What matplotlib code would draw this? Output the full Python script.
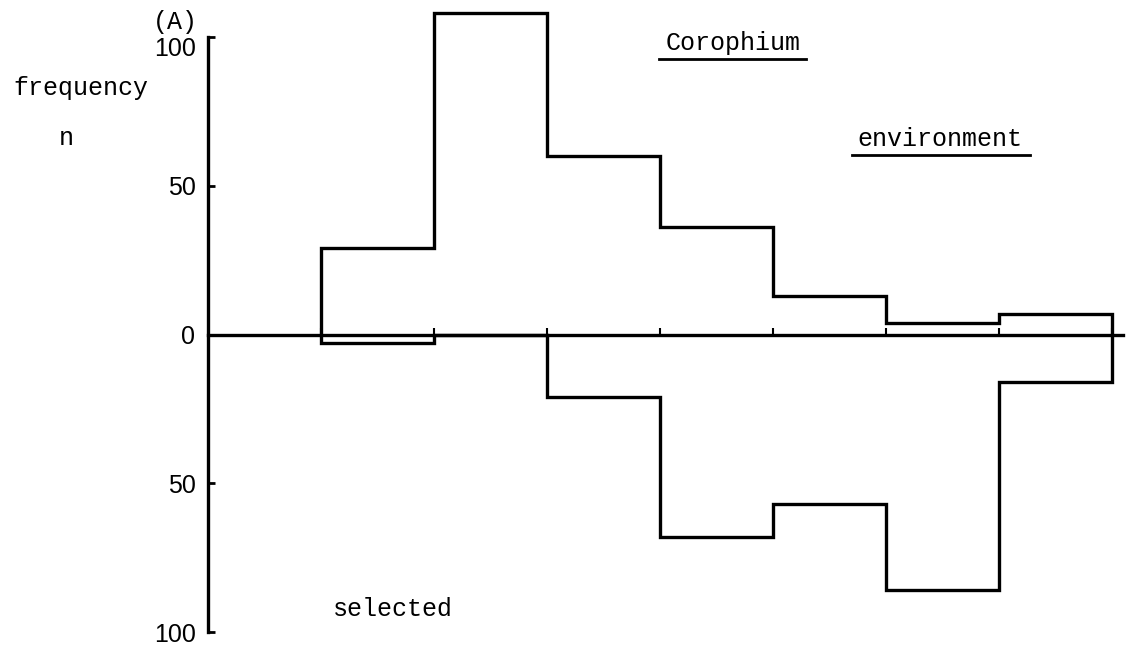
import numpy as np
from matplotlib import pyplot as plt

# bin edges (class intervals); first interval next to the axis is empty
edges = np.arange(1, 9)
environment = [29, 108, 60, 36, 13, 4, 7]   # upper histogram
selected = [3, 0, 21, 68, 57, 86, 16]       # lower histogram (plotted downwards)
ytick_vals = [-100, -50, 0, 50, 100]
ytick_text = ['100', '50', '0', '50', '100']

W, H = 1128, 659
fig = plt.figure(figsize=(W / 100, H / 100), dpi=100)
# x: 0 -> 208 px, 8 -> 1112 px ; y: -100 -> 632 px, 100 -> 37 px
ax = fig.add_axes([208 / W, (H - 632) / H, 113 * 8.1 / W, 595 / H])
ax.set_xlim(0, 8.1)
ax.set_ylim(-100, 100)

ax.stairs(environment, edges, baseline=0, color='black', lw=2.4, clip_on=False)
ax.stairs(-np.array(selected), edges, baseline=0, color='black', lw=2.4, clip_on=False)

for s in ['top', 'right']:
    ax.spines[s].set_visible(False)
ax.spines['left'].set_linewidth(2.4)
ax.spines['bottom'].set_position(('data', 0))
ax.spines['bottom'].set_linewidth(2.4)

ax.set_xticks(edges)
ax.set_xticklabels([])
ax.tick_params(axis='x', direction='in', length=5, width=1.5)

ax.set_yticks(ytick_vals)
ax.set_yticklabels(ytick_text, fontfamily='Liberation Sans', fontsize=18)
ax.tick_params(axis='y', direction='in', length=5, width=2, pad=9)
ax.get_yticklabels()[-1].set_va('top')

mono = dict(fontfamily='Liberation Mono', fontsize=18, color='black')
fig.text(175 / W, 1 - 22 / H, '(A)', ha='center', va='center', **mono)
fig.text(81 / W, 1 - 88 / H, 'frequency', ha='center', va='center', **mono)
fig.text(66 / W, 1 - 138 / H, 'n', ha='center', va='center', **mono)
fig.text(733 / W, 1 - 43 / H, 'Corophium', ha='center', va='center', **mono)
fig.text(940 / W, 1 - 139 / H, 'environment', ha='center', va='center', **mono)
fig.text(393 / W, 1 - 609 / H, 'selected', ha='center', va='center', **mono)

# underlines under the two group labels
fig.add_artist(plt.Line2D([659 / W, 806 / W], [1 - 59 / H, 1 - 59 / H], color='black', lw=2))
fig.add_artist(plt.Line2D([852 / W, 1030 / W], [1 - 155 / H, 1 - 155 / H], color='black', lw=2))

fig.savefig('out.png', dpi=100)
